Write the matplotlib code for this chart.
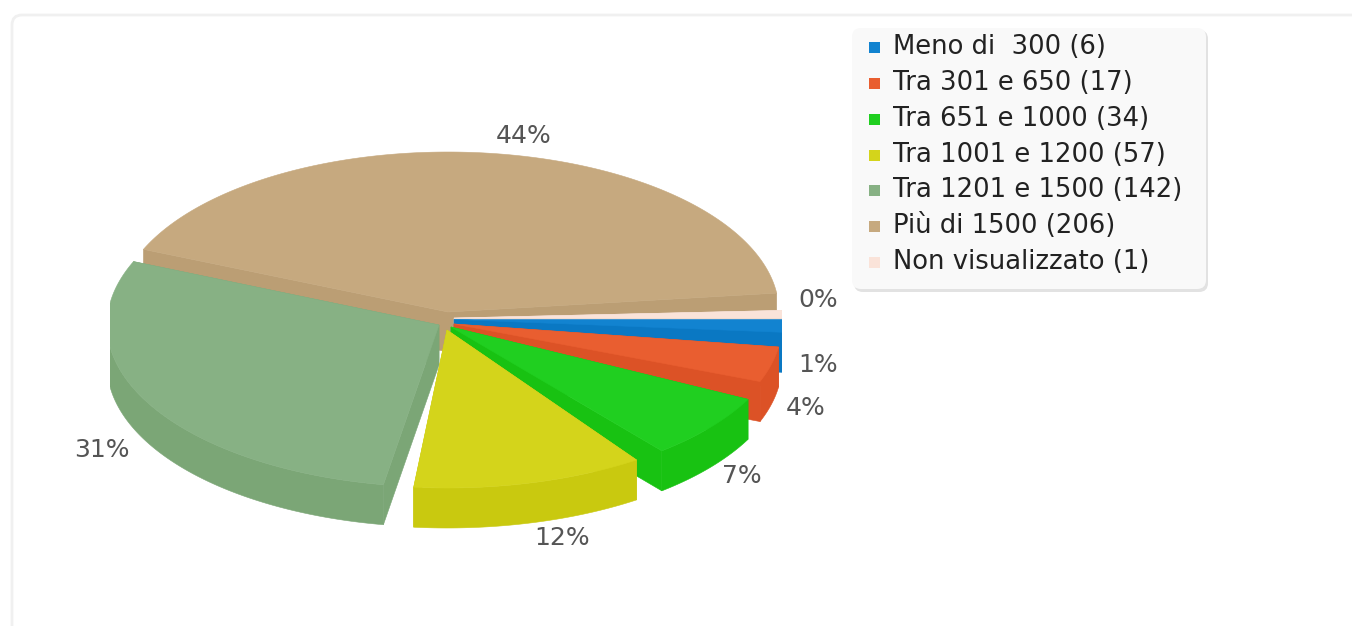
import numpy as np
import matplotlib
matplotlib.use("Agg")
import matplotlib.pyplot as plt
from matplotlib.patches import FancyBboxPatch, Rectangle, Polygon

# ---- data ----
categories = ["Meno di  300", "Tra 301 e 650", "Tra 651 e 1000", "Tra 1001 e 1200",
              "Tra 1201 e 1500", "Più di 1500", "Non visualizzato"]
counts = [6, 17, 34, 57, 142, 206, 1]
percent_labels = ["1%", "4%", "7%", "12%", "31%", "44%", "0%"]

# ---- style ----
top_colors = ["#1283d0", "#e95e30", "#20cf20", "#d4d41b", "#87b184", "#c6a97f", "#fae3d9"]
wall_colors = ["#0a78c3", "#dc5226", "#18c212", "#c9c90f", "#7ba676", "#bb9e74", "#f0d8cc"]
apex = [(454, 319.5), (454, 324), (451, 327), (447, 330), (439, 325), (448, 312), (454, 318)]
radii = [(335, 160), (328, 160), (333, 160), (333, 158), (332, 162), (331, 160), (335, 160)]
start_adj = [0, 3.6, 9, 11, 11, 4, -2]
end_adj = [0, 3.2, 6.4, 7.1, 4, -6, 0]
label_pos = [(818, 365), (806, 408), (742, 476), (562, 538), (102, 450), (524, 136), (818, 300)]
draw_order = [5, 6, 0, 1, 4, 2, 3]
depth = 40

fig = plt.figure(figsize=(13.52, 6.26), dpi=100)
ax = fig.add_axes([0, 0, 1, 1])
ax.set_xlim(0, 1352)
ax.set_ylim(626, 0)
ax.axis("off")

# card
ax.add_patch(FancyBboxPatch((12, 15), 1500, 800, boxstyle="round,pad=0,rounding_size=10",
                            fc="white", ec="#f0f0f0", lw=2))

clip = Rectangle((110, 0), 672, 626, transform=ax.transData)
fractions = np.cumsum([0] + counts) / sum(counts) * 360


def add(points, color):
    p = Polygon(points, closed=True, fc=color, ec=color, lw=0.4, zorder=3)
    ax.add_patch(p)
    p.set_clip_path(clip)


for i in draw_order:
    t0 = np.radians(fractions[i] + start_adj[i])
    t1 = np.radians(fractions[i + 1] + end_adj[i])
    cx, cy = apex[i]
    rx, ry = radii[i]
    t = np.linspace(t0, t1, 200)
    arc = np.column_stack([cx + rx * np.cos(t), cy + ry * np.sin(t)])
    c = np.array([cx, cy])
    down = np.array([0, depth])
    # radial faces
    add([c, arc[0], arc[0] + down, c + down], wall_colors[i])
    add([c, arc[-1], arc[-1] + down, c + down], wall_colors[i])
    # outer wall (only the part facing the viewer)
    front = np.sin(t) >= 0
    if front.any():
        a = arc[front]
        add(np.vstack([a, (a + down)[::-1]]), wall_colors[i])
    # top
    add(np.vstack([c, arc]), top_colors[i])

# percent labels
for (x, y), s in zip(label_pos, percent_labels):
    ax.text(x, y, s, ha="center", va="center", fontsize=18, color="#555555",
            family="DejaVu Sans", zorder=5)

# legend
ax.add_patch(FancyBboxPatch((854, 30), 354, 262, boxstyle="round,pad=0,rounding_size=9",
                            fc="#e2e2e2", ec="none", zorder=3))
ax.add_patch(FancyBboxPatch((852, 28), 354, 261, boxstyle="round,pad=0,rounding_size=9",
                            fc="#f9f9f9", ec="none", zorder=4))
rows = np.linspace(47, 262, len(categories))
for y, name, n, col in zip(rows, categories, counts, top_colors):
    ax.add_patch(Rectangle((869, y - 5), 11, 11, fc=col, ec="none", zorder=5))
    ax.text(893, y, f"{name} ({n})", ha="left", va="center", fontsize=18.65,
            color="#222222", family="DejaVu Sans", zorder=5)

fig.savefig("out.png", dpi=100)
